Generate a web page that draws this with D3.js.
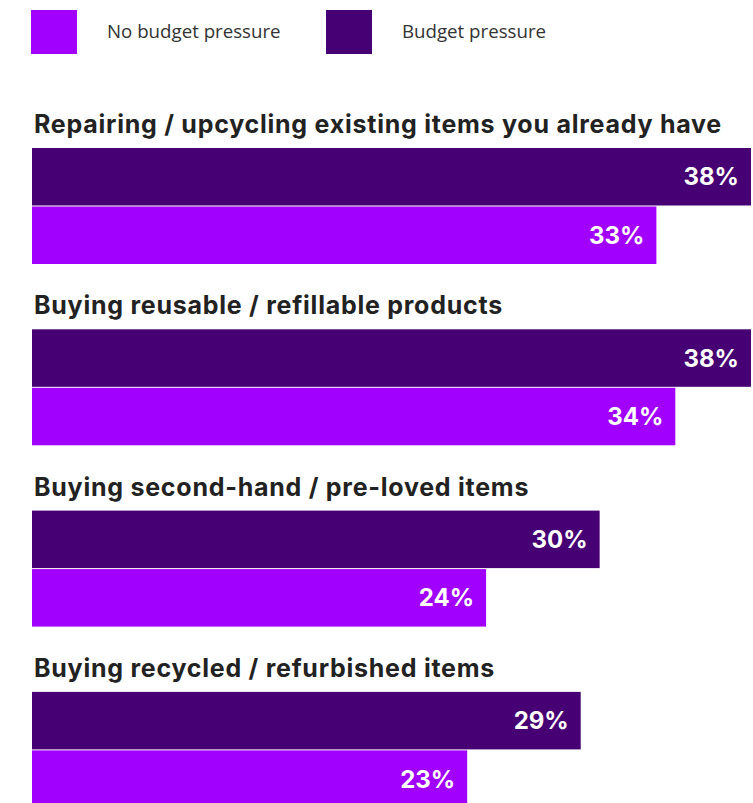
<!DOCTYPE html>
<html>
<head>
<meta charset="utf-8">
<script src="https://cdn.jsdelivr.net/npm/d3@7"></script>
<style>
  html, body { margin: 0; padding: 0; background: #fff; }
  svg { display: block; }
</style>
</head>
<body>
<svg id="chart" width="753" height="803"></svg>
<script>
// Survey categories, one group each
const categories = [
  "Repairing / upcycling existing items you already have",
  "Buying reusable / refillable products",
  "Buying second-hand / pre-loved items",
  "Buying recycled / refurbished items"
];
// Series (drawn top to bottom inside each group)
const seriesNames = ["Budget pressure", "No budget pressure"];
const budgetPressure = [38, 38, 30, 29];
const noBudgetPressure = [33, 34, 24, 23];
// Legend order
const legendOrder = ["No budget pressure", "Budget pressure"];

const colors = { "No budget pressure": "#a100ff", "Budget pressure": "#460073" };
const valuesBySeries = { "Budget pressure": budgetPressure, "No budget pressure": noBudgetPressure };

const svg = d3.select("#chart");

// Legend
const legendX = d3.scalePoint().domain(legendOrder).range([31, 326]);
const legend = svg.append("g").selectAll("g").data(legendOrder).join("g")
  .attr("transform", d => `translate(${legendX(d)},10)`);
legend.append("rect").attr("width", 46).attr("height", 44).attr("fill", d => colors[d]);
legend.append("text")
  .attr("x", 76).attr("y", 28)
  .attr("font-family", "'Open Sans', sans-serif")
  .attr("font-size", 18.7)
  .attr("fill", "#333")
  .text(d => d);

// Scales
const x = d3.scaleLinear().domain([0, 38]).range([32, 751]);
const groupY = d3.scaleBand().domain(categories).range([148, 148 + 181.3 * categories.length]);
const barY = d3.scaleBand().domain(seriesNames).range([0, 116]).paddingInner(0.017);

const groups = svg.append("g").selectAll("g").data(categories).join("g")
  .attr("transform", d => `translate(0,${groupY(d)})`);

// Category headings
groups.append("text")
  .attr("x", 34).attr("y", -15)
  .attr("font-family", "Inter, sans-serif")
  .attr("font-weight", 700)
  .attr("font-size", 25)
  .attr("letter-spacing", 0.75)
  .attr("fill", "#222")
  .text(d => d);

const bars = groups.selectAll("g.bar")
  .data((d, i) => seriesNames.map(s => ({ series: s, value: valuesBySeries[s][i] })))
  .join("g").attr("class", "bar");

bars.append("rect")
  .attr("x", x(0))
  .attr("y", d => barY(d.series))
  .attr("width", d => x(d.value) - x(0))
  .attr("height", barY.bandwidth())
  .attr("fill", d => colors[d.series]);

// Value labels inside the bar ends
bars.append("text")
  .attr("x", d => x(d.value) - 12)
  .attr("y", d => barY(d.series) + barY.bandwidth() / 2)
  .attr("dy", "0.36em")
  .attr("text-anchor", "end")
  .attr("font-family", "Inter, sans-serif")
  .attr("font-weight", 700)
  .attr("font-size", 24)
  .attr("fill", "#fff")
  .text(d => d.value + "%");
</script>
</body>
</html>
